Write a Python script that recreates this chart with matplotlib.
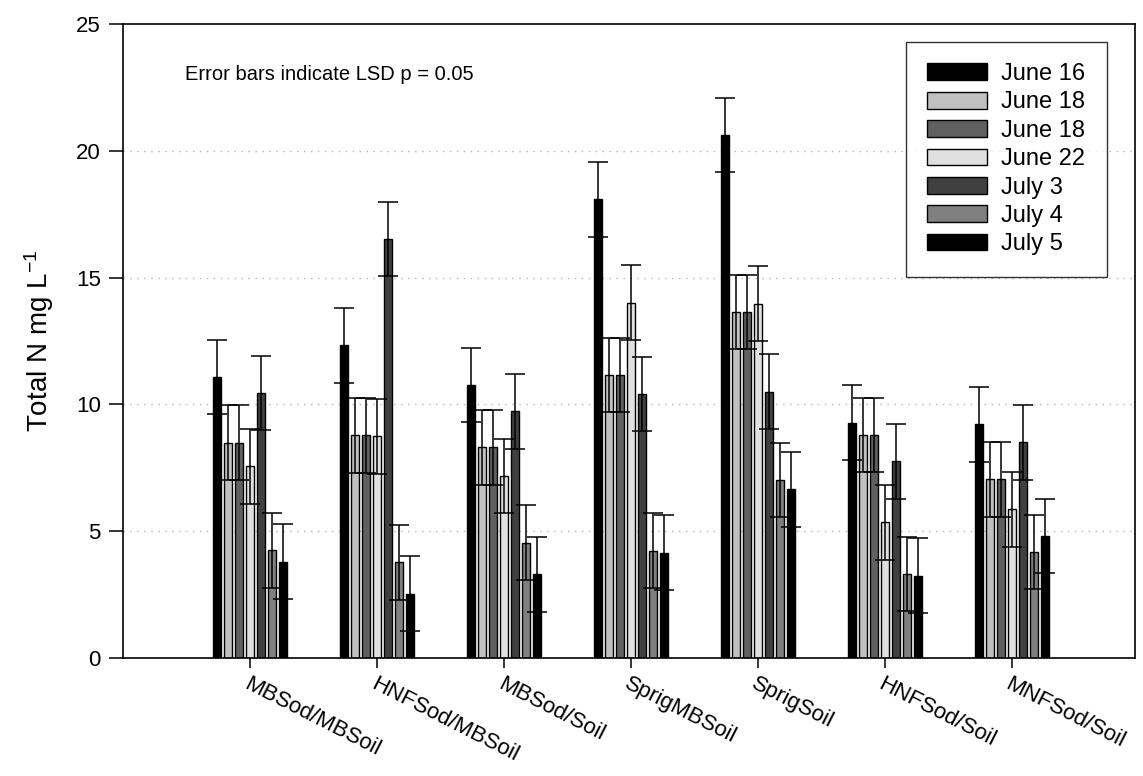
import numpy as np
import matplotlib
matplotlib.use('Agg')
import matplotlib.pyplot as plt

plt.rcParams['font.family'] = ['Liberation Sans', 'DejaVu Sans']
plt.rcParams['mathtext.fontset'] = 'custom'
plt.rcParams['mathtext.rm'] = 'Liberation Sans'
plt.rcParams['mathtext.it'] = 'Liberation Sans'

groups = ["MBSod/MBSoil", "HNFSod/MBSoil", "MBSod/Soil", "SprigMBSoil",
          "SprigSoil", "HNFSod/Soil", "MNFSod/Soil"]
dates = ["June 16", "June 18", "June 18", "June 22", "July 3", "July 4", "July 5"]

june16 = [11.09, 12.33, 10.77, 18.09, 20.62, 9.28, 9.21]
june18a = [8.49, 8.78, 8.31, 11.17, 13.64, 8.79, 7.05]
june18b = [8.49, 8.78, 8.31, 11.17, 13.64, 8.79, 7.05]
june22 = [7.56, 8.74, 7.18, 14.02, 13.97, 5.35, 5.86]
july3 = [10.46, 16.52, 9.73, 10.41, 10.51, 7.76, 8.50]
july4 = [4.25, 3.77, 4.55, 4.24, 7.02, 3.31, 4.18]
july5 = [3.80, 2.54, 3.30, 4.16, 6.65, 3.25, 4.81]
series = [june16, june18a, june18b, june22, july3, july4, july5]
lsd = 1.47

colors = ['#000000', '#c0c0c0', '#606060', '#e0e0e0', '#404040', '#808080', '#000000']

fig = plt.figure(figsize=(11.43, 7.76), dpi=100)
ax = fig.add_axes([0.1076, 0.152, 0.8854, 0.817])

x = np.arange(len(groups))
pitch = 0.0866
width = 0.059
for j, (vals, lab, c) in enumerate(zip(series, dates, colors)):
    pos = x + (j - 3) * pitch
    ax.bar(pos, vals, width, color=c, edgecolor='black', linewidth=1.0,
           label=lab, zorder=2)
    ax.errorbar(pos, vals, yerr=lsd, fmt='none', ecolor='black',
                elinewidth=1.1, capsize=7.2, capthick=1.1, zorder=3)

ax.set_xlim(-1.0, 6.97)
ax.set_ylim(0, 25)
ax.set_yticks([0, 5, 10, 15, 20, 25])
for yv in [5, 10, 15, 20]:
    ax.axhline(yv, color='#b4b4b4', linestyle=(0, (1, 4)), linewidth=1.0, zorder=0)

ax.set_xticks(x)
ax.set_xticklabels(groups, rotation=-27, ha='left', va='top',
                   rotation_mode='anchor', fontsize=16)
ax.tick_params(axis='x', length=7, width=1.1, direction='out', pad=4)
ax.tick_params(axis='y', length=10, width=1.1, direction='out', labelsize=16, pad=6)
for s in ax.spines.values():
    s.set_linewidth(1.2)

ax.set_ylabel('Total N mg L$^{-1}$', fontsize=20, labelpad=14)

ax.text(0.061, 0.92, 'Error bars indicate LSD p = 0.05', transform=ax.transAxes,
        fontsize=14.5, va='center', ha='left')

leg = ax.legend(loc='upper right', bbox_to_anchor=(0.972, 0.972), fontsize=17,
                frameon=True, fancybox=False, edgecolor='black',
                handlelength=2.55, handleheight=0.72, labelspacing=0.27,
                borderpad=0.9, handletextpad=0.6, borderaxespad=0)
leg.get_frame().set_linewidth(1.0)

fig.savefig('out.png', dpi=100)
